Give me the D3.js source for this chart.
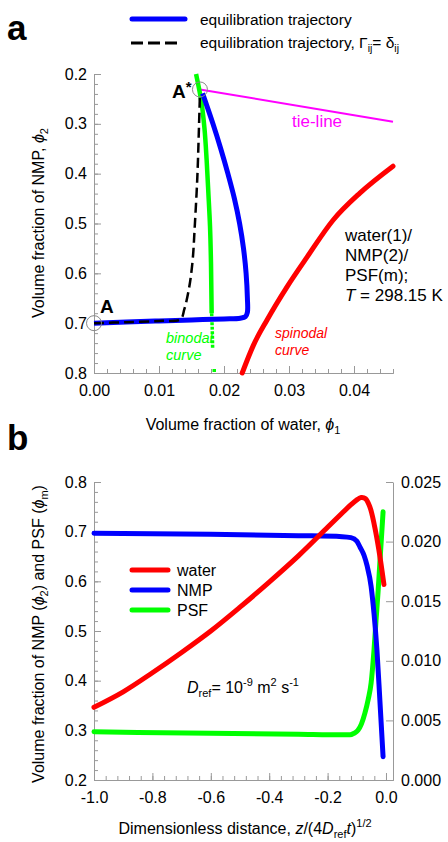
<!DOCTYPE html>
<html><head><meta charset="utf-8">
<script src="https://cdn.jsdelivr.net/npm/d3@7"></script>
<style>
body{margin:0;background:#fff}
svg{display:block;font-family:"Liberation Sans",Arial,Helvetica,sans-serif}
</style>
</head><body>
<svg id="c" width="448" height="842"></svg>
<script>
// ---------- Panel a data (phi1 = water, phi2 = NMP) ----------
const trajPhi1 = [0.0, 0.005, 0.010, 0.015, 0.020, 0.0225, 0.0233, 0.0236, 0.0236, 0.0234, 0.0230, 0.0224, 0.0216, 0.0206, 0.0195, 0.0183, 0.0167];
const trajPhi2 = [0.700, 0.6975, 0.6955, 0.6935, 0.6915, 0.6900, 0.6870, 0.6780, 0.650, 0.600, 0.550, 0.500, 0.450, 0.400, 0.350, 0.300, 0.239];
const idealPhi1 = [0.0, 0.005, 0.010, 0.0133, 0.0139, 0.01466, 0.01518, 0.0155, 0.0159, 0.01615, 0.0163];
const idealPhi2 = [0.700, 0.698, 0.6955, 0.692, 0.672, 0.627, 0.573, 0.506, 0.406, 0.306, 0.239];
const binodalPhi1 = [0.0157, 0.01656, 0.0170, 0.01733, 0.01760, 0.01785, 0.0180, 0.0181];
const binodalPhi2 = [0.200, 0.259, 0.310, 0.373, 0.440, 0.506, 0.580, 0.680];
const binodalDotPhi1 = [0.0181, 0.0182, 0.01825, null, 0.0185, 0.0185];
const binodalDotPhi2 = [0.680, 0.715, 0.750, null, 0.792, 0.800];
const spinodalPhi1 = [0.0228, 0.0245, 0.0266, 0.0297, 0.0328, 0.0368, 0.0409, 0.0460];
const spinodalPhi2 = [0.800, 0.745, 0.694, 0.627, 0.567, 0.493, 0.439, 0.385];
const tiePhi1 = [0.0163, 0.0460];
const tiePhi2 = [0.231, 0.2957];
const pointA = [0.0, 0.700];
const pointAstar = [0.0163, 0.231];
const xTicksA = [0.00, 0.01, 0.02, 0.03, 0.04];
const yTicksA = [0.2, 0.3, 0.4, 0.5, 0.6, 0.7, 0.8];

// ---------- Panel b data ----------
const zWater = [-1.0, -0.9, -0.8, -0.7, -0.6, -0.5, -0.4, -0.3, -0.2, -0.15, -0.12, -0.1, -0.085, -0.07, -0.055, -0.04, -0.025, -0.007];
const water  = [0.0061, 0.0074, 0.0090, 0.0107, 0.0125, 0.0145, 0.0166, 0.0188, 0.0212, 0.0224, 0.0231, 0.0235, 0.0237, 0.0236, 0.0229, 0.0214, 0.0194, 0.0164];
const zNmp = [-1.0, -0.6, -0.3, -0.15, -0.12, -0.10, -0.089, -0.075, -0.065, -0.051, -0.041, -0.031, -0.021, -0.010];
const nmp  = [0.697, 0.695, 0.692, 0.690, 0.688, 0.681, 0.669, 0.652, 0.632, 0.590, 0.535, 0.462, 0.361, 0.247];
const zPsf = [-1.0, -0.6, -0.3, -0.15, -0.123, -0.11, -0.096, -0.084, -0.072, -0.061, -0.051, -0.041, -0.034, -0.027, -0.021, -0.010];
const psf  = [0.297, 0.294, 0.292, 0.291, 0.291, 0.294, 0.300, 0.313, 0.335, 0.362, 0.395, 0.462, 0.522, 0.580, 0.637, 0.740];
const xTicksB = [-1.0, -0.8, -0.6, -0.4, -0.2, 0.0];
const yTicksBL = [0.2, 0.3, 0.4, 0.5, 0.6, 0.7, 0.8];
const yTicksBR = [0.000, 0.005, 0.010, 0.015, 0.020, 0.025];

const svg = d3.select("#c");
const AX = "#999";
const zip = (a, b) => a.map((v, i) => [v, b[i]]);

function styleAxis(g) {
  g.selectAll("path.domain").attr("stroke", AX).attr("stroke-width", 1);
  g.selectAll(".tick line").attr("stroke", AX).attr("stroke-width", 1);
  g.selectAll(".tick text").attr("fill", "#000").style("font-size", "16px")
    .style("font-family", '"Liberation Sans",Arial,sans-serif');
}
function minorAxis(axisFn, scale, vals, size) {
  return axisFn(scale).tickValues(vals).tickSize(-size).tickFormat("");
}
function range(a, b, step) { const r = []; for (let v = a; v <= b + 1e-9; v += step) r.push(+v.toFixed(4)); return r; }

// ================= Panel a =================
const xa = d3.scaleLinear().domain([0, 0.046]).range([94, 393]);
const ya = d3.scaleLinear().domain([0.2, 0.8]).range([74, 373]);

svg.append("g").attr("transform", "translate(0,373)")
  .call(minorAxis(d3.axisBottom, xa, range(0, 0.046, 0.002), 4)).call(styleAxis);
svg.append("g").attr("transform", "translate(0,373)")
  .call(d3.axisBottom(xa).tickValues(xTicksA).tickFormat(d3.format(".2f")).tickSize(-7).tickSizeOuter(0).tickPadding(12))
  .call(styleAxis);
svg.append("g").attr("transform", "translate(94,0)")
  .call(minorAxis(d3.axisLeft, ya, range(0.2, 0.8, 0.02), 4)).call(styleAxis);
svg.append("g").attr("transform", "translate(94,0)")
  .call(d3.axisLeft(ya).tickValues(yTicksA).tickFormat(d3.format(".1f")).tickSize(-7).tickSizeOuter(0).tickPadding(7))
  .call(styleAxis);

const lineA = d3.line().defined(d => d[0] !== null).x(d => xa(d[0])).y(d => ya(d[1]));
const gA = svg.append("g");
gA.append("path").datum(zip(spinodalPhi1, spinodalPhi2))
  .attr("d", lineA.curve(d3.curveMonotoneX)).attr("fill", "none").attr("stroke", "#ff0000").attr("stroke-width", 5).attr("stroke-linecap", "round");
gA.append("path").datum(zip(tiePhi1, tiePhi2))
  .attr("d", lineA.curve(d3.curveLinear)).attr("fill", "none").attr("stroke", "#ff00ff").attr("stroke-width", 2);
gA.append("path").datum(zip(binodalPhi1, binodalPhi2))
  .attr("d", lineA.curve(d3.curveMonotoneY)).attr("fill", "none").attr("stroke", "#00ff00").attr("stroke-width", 4.5);
gA.append("path").datum(zip(binodalDotPhi1, binodalDotPhi2))
  .attr("d", lineA.curve(d3.curveLinear)).attr("fill", "none").attr("stroke", "#00ff00").attr("stroke-width", 3.5).attr("stroke-dasharray", "3,1.5");
gA.append("path").datum(zip(trajPhi1, trajPhi2))
  .attr("d", lineA.curve(d3.curveCatmullRom.alpha(0.5))).attr("fill", "none").attr("stroke", "#0000ff").attr("stroke-width", 5).attr("stroke-linejoin", "round");
gA.append("path").datum(zip(idealPhi1, idealPhi2))
  .attr("d", lineA.curve(d3.curveCatmullRom.alpha(0.5))).attr("fill", "none").attr("stroke", "#000").attr("stroke-width", 2.5).attr("stroke-dasharray", "10,5");
[pointA, pointAstar].forEach(p => {
  svg.append("circle").attr("cx", xa(p[0])).attr("cy", ya(p[1])).attr("r", 7.5)
    .attr("fill", "none").attr("stroke", "#888").attr("stroke-width", 1);
});
svg.append("text").attr("x", 100).attr("y", 313).attr("font-weight", "bold").style("font-size", "19px").text("A");
const as = svg.append("text").attr("x", 172).attr("y", 98).attr("font-weight", "bold").style("font-size", "19px");
as.append("tspan").text("A");
as.append("tspan").attr("dy", -6).style("font-size", "15px").text("*");

svg.append("text").attr("x", 292).attr("y", 127).attr("fill", "#ff00ff").style("font-size", "17px").text("tie-line");

const info = ["water(1)/", "NMP(2)/", "PSF(m);"];
info.forEach((t, i) => svg.append("text").attr("x", 345).attr("y", 241 + i * 20).style("font-size", "17px").text(t));
const tl = svg.append("text").attr("x", 345).attr("y", 301).style("font-size", "17px");
tl.append("tspan").attr("font-style", "italic").text("T");
tl.append("tspan").text(" = 298.15 K");

svg.append("text").attr("x", 166).attr("y", 343).attr("fill", "#00ff00").attr("font-style", "italic").style("font-size", "14.5px").text("binodal");
svg.append("text").attr("x", 166).attr("y", 360).attr("fill", "#00ff00").attr("font-style", "italic").style("font-size", "14.5px").text("curve");
svg.append("text").attr("x", 275).attr("y", 338).attr("fill", "#ff0000").attr("font-style", "italic").style("font-size", "14px").text("spinodal");
svg.append("text").attr("x", 275).attr("y", 355).attr("fill", "#ff0000").attr("font-style", "italic").style("font-size", "14px").text("curve");

const xla = svg.append("text").attr("x", 243).attr("y", 430).attr("text-anchor", "middle").style("font-size", "16px");
xla.append("tspan").text("Volume fraction of water, ");
xla.append("tspan").attr("font-style", "italic").text("ϕ");
xla.append("tspan").attr("dy", 4).style("font-size", "11px").text("1");
const yla = svg.append("text").attr("transform", "translate(44,223) rotate(-90)").attr("text-anchor", "middle").style("font-size", "16px");
yla.append("tspan").text("Volume fraction of NMP, ");
yla.append("tspan").attr("font-style", "italic").text("ϕ");
yla.append("tspan").attr("dy", 4).style("font-size", "11px").text("2");

svg.append("line").attr("x1", 132).attr("x2", 185).attr("y1", 19).attr("y2", 19).attr("stroke", "#0000ff").attr("stroke-width", 5).attr("stroke-linecap", "round");
svg.append("text").attr("x", 200).attr("y", 25).style("font-size", "15.5px").text("equilibration trajectory");
svg.append("line").attr("x1", 131).attr("x2", 181).attr("y1", 43).attr("y2", 43).attr("stroke", "#000").attr("stroke-width", 3).attr("stroke-dasharray", "12,5");
const lg2 = svg.append("text").attr("x", 200).attr("y", 48).style("font-size", "15.5px");
lg2.append("tspan").text("equilibration trajectory, Γ");
lg2.append("tspan").attr("dy", 4).style("font-size", "10.5px").text("ij");
lg2.append("tspan").attr("dy", -4).text("= δ");
lg2.append("tspan").attr("dy", 4).style("font-size", "10.5px").text("ij");

svg.append("text").attr("x", 7).attr("y", 40).attr("font-weight", "bold").style("font-size", "35px").text("a");
svg.append("text").attr("x", 7).attr("y", 450).attr("font-weight", "bold").style("font-size", "35px").text("b");

// ================= Panel b =================
const xb = d3.scaleLinear().domain([-1.0, 0.024]).range([94, 393]);
const ybL = d3.scaleLinear().domain([0.2, 0.8]).range([780, 482]);
const ybR = d3.scaleLinear().domain([0, 0.025]).range([780, 482]);

svg.append("g").attr("transform", "translate(0,780)")
  .call(minorAxis(d3.axisBottom, xb, range(-1.0, 0.0, 0.04), 4)).call(styleAxis);
const xbAxis = svg.append("g").attr("transform", "translate(0,780)")
  .call(d3.axisBottom(xb).tickValues(xTicksB).tickFormat(d => d3.format(".1f")(d).replace("−", "-")).tickSize(-7).tickSizeOuter(0).tickPadding(12))
  .call(styleAxis);
svg.append("g").attr("transform", "translate(94,0)")
  .call(minorAxis(d3.axisLeft, ybL, range(0.2, 0.8, 0.02), 4)).call(styleAxis);
svg.append("g").attr("transform", "translate(94,0)")
  .call(d3.axisLeft(ybL).tickValues(yTicksBL).tickFormat(d3.format(".1f")).tickSize(-7).tickSizeOuter(0).tickPadding(7))
  .call(styleAxis);
svg.append("g").attr("transform", "translate(393,0)")
  .call(d3.axisRight(ybR).tickValues(yTicksBR).tickFormat(d3.format(".3f")).tickSize(-7).tickSizeOuter(0).tickPadding(8))
  .call(styleAxis);

const lineBL = d3.line().x(d => xb(d[0])).y(d => ybL(d[1])).curve(d3.curveMonotoneX);
const lineBR = d3.line().x(d => xb(d[0])).y(d => ybR(d[1])).curve(d3.curveCatmullRom.alpha(0.5));
svg.append("path").datum(zip(zPsf, psf)).attr("d", lineBL).attr("fill", "none").attr("stroke", "#00ff00").attr("stroke-width", 5).attr("stroke-linecap", "round");
svg.append("path").datum(zip(zNmp, nmp)).attr("d", lineBL).attr("fill", "none").attr("stroke", "#0000ff").attr("stroke-width", 5).attr("stroke-linecap", "round");
svg.append("path").datum(zip(zWater, water)).attr("d", lineBR).attr("fill", "none").attr("stroke", "#ff0000").attr("stroke-width", 5).attr("stroke-linecap", "round");

const legB = [["water", "#ff0000"], ["NMP", "#0000ff"], ["PSF", "#00ff00"]];
legB.forEach((d, i) => {
  const y = 570 + i * 20;
  svg.append("line").attr("x1", 132).attr("x2", 168).attr("y1", y).attr("y2", y).attr("stroke", d[1]).attr("stroke-width", 5).attr("stroke-linecap", "round");
  svg.append("text").attr("x", 177).attr("y", y + 6).style("font-size", "16px").text(d[0]);
});

const dr = svg.append("text").attr("x", 187).attr("y", 693).style("font-size", "16px");
dr.append("tspan").attr("font-style", "italic").text("D");
dr.append("tspan").attr("dy", 4).style("font-size", "11px").text("ref");
dr.append("tspan").attr("dy", -4).text("= 10");
dr.append("tspan").attr("dy", -7).style("font-size", "11px").text("-9");
dr.append("tspan").attr("dy", 7).text(" m");
dr.append("tspan").attr("dy", -7).style("font-size", "11px").text("2");
dr.append("tspan").attr("dy", 7).text(" s");
dr.append("tspan").attr("dy", -7).style("font-size", "11px").text("-1");

const xlb = svg.append("text").attr("x", 245).attr("y", 834).attr("text-anchor", "middle").style("font-size", "16px");
xlb.append("tspan").text("Dimensionless distance, ");
xlb.append("tspan").attr("font-style", "italic").text("z");
xlb.append("tspan").text("/(4");
xlb.append("tspan").attr("font-style", "italic").text("D");
xlb.append("tspan").attr("dy", 4).style("font-size", "11px").text("ref");
xlb.append("tspan").attr("dy", -4).attr("font-style", "italic").text("t");
xlb.append("tspan").text(")");
xlb.append("tspan").attr("dy", -7).style("font-size", "11px").text("1/2");

const ylb = svg.append("text").attr("transform", "translate(44,634) rotate(-90)").attr("text-anchor", "middle").style("font-size", "16px");
ylb.append("tspan").text("Volume fraction of NMP (");
ylb.append("tspan").attr("font-style", "italic").text("ϕ");
ylb.append("tspan").attr("dy", 4).style("font-size", "11px").text("2");
ylb.append("tspan").attr("dy", -4).text(") and PSF (");
ylb.append("tspan").attr("font-style", "italic").text("ϕ");
ylb.append("tspan").attr("dy", 4).style("font-size", "11px").text("m");
ylb.append("tspan").attr("dy", -4).text(")");
</script>
</body></html>
